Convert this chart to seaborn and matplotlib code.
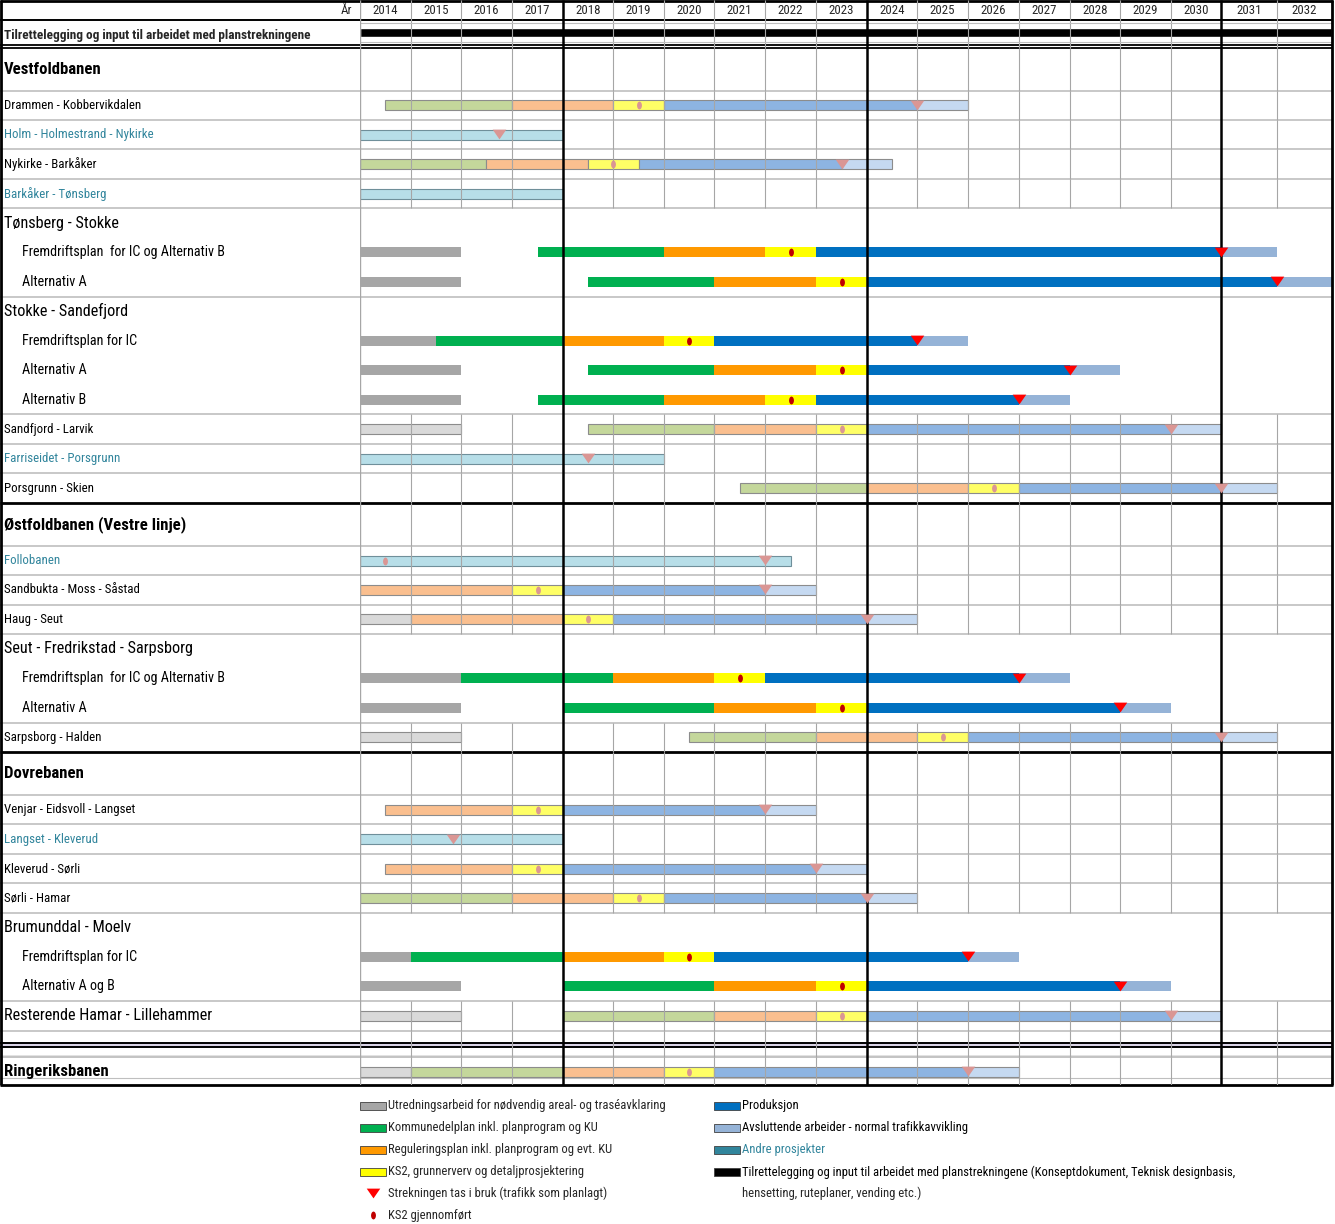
import numpy as np
import pandas as pd
import seaborn as sns
import matplotlib.pyplot as plt
from matplotlib.path import Path
from matplotlib.markers import MarkerStyle
from matplotlib.patches import Rectangle
from matplotlib.transforms import Affine2D

sns.set_style('white')
plt.rcParams['font.family'] = ['Liberation Sans Narrow', 'Roboto Condensed', 'Liberation Sans', 'DejaVu Sans']

W, H = 1335, 1224

# år og kolonnegrenser (siste to kolonner er litt bredere i originalen)
years = list(range(2014, 2033))
year_edges = years + [2033]
col_px = [360, 411, 461, 512, 563, 613, 664, 714, 765, 816, 867, 917, 968,
          1019, 1070, 1120, 1171, 1221, 1277, 1332]
thick_years = [2018, 2024, 2031]

tilr_label = 'Tilrettelegging og input til arbeidet med planstrekningene'
tilr_span = (2014, 2033)

row_labels = [
    'Vestfoldbanen', 'Drammen - Kobbervikdalen', 'Holm - Holmestrand - Nykirke',
    'Nykirke - Barkåker', 'Barkåker - Tønsberg', 'Tønsberg - Stokke',
    'Fremdriftsplan  for IC og Alternativ B', 'Alternativ A', 'Stokke - Sandefjord',
    'Fremdriftsplan for IC', 'Alternativ A', 'Alternativ B', 'Sandfjord - Larvik',
    'Farriseidet - Porsgrunn', 'Porsgrunn - Skien', 'Østfoldbanen (Vestre linje)',
    'Follobanen', 'Sandbukta - Moss - Såstad', 'Haug - Seut',
    'Seut - Fredrikstad - Sarpsborg', 'Fremdriftsplan  for IC og Alternativ B',
    'Alternativ A', 'Sarpsborg - Halden', 'Dovrebanen', 'Venjar - Eidsvoll - Langset',
    'Langset - Kleverud', 'Kleverud - Sørli', 'Sørli - Hamar', 'Brumunddal - Moelv',
    'Fremdriftsplan for IC', 'Alternativ A og B', 'Resterende Hamar - Lillehammer',
    '', 'Ringeriksbanen',
]
row_styles = [
    'line', 'plan', 'andre', 'plan', 'andre', 'group', 'ic', 'ic', 'group',
    'ic', 'ic', 'ic', 'plan', 'andre', 'plan', 'line',
    'andre', 'plan', 'plan', 'group', 'ic', 'ic', 'plan', 'line', 'plan',
    'andre', 'plan', 'plan', 'group', 'ic', 'ic', 'groupbar', 'sep', 'linebar',
]
# U=utredning, K=kommunedelplan, R=reguleringsplan, S=KS2/grunnerverv,
# P=produksjon, A=avsluttende, X=andre prosjekter, '-'=ingen aktivitet
row_phases = [
    '', 'KRSPA', 'X', 'KRSPA', 'X', '', 'U-KRSPA', 'U-KRSPA', '',
    'UKRSPA', 'U-KRSPA', 'U-KRSPA', 'U-KRSPA', 'X', 'KRSPA', '',
    'X', 'RSPA', 'URSPA', '', 'UKRSPA', 'U-KRSPA', 'U-KRSPA', '', 'RSPA',
    'X', 'RSPA', 'KRSPA', '', 'UKRSPA', 'U-KRSPA', 'U-KRSPA', '', 'UKRSPA',
]
row_edges = [
    [], [2014.5, 2017, 2019, 2020, 2025, 2026], [2014, 2018],
    [2014, 2016.5, 2018.5, 2019.5, 2023.5, 2024.5], [2014, 2018], [],
    [2014, 2016, 2017.5, 2020, 2022, 2023, 2031, 2032],
    [2014, 2016, 2018.5, 2021, 2023, 2024, 2032, 2033], [],
    [2014, 2015.5, 2018, 2020, 2021, 2025, 2026],
    [2014, 2016, 2018.5, 2021, 2023, 2024, 2028, 2029],
    [2014, 2016, 2017.5, 2020, 2022, 2023, 2027, 2028],
    [2014, 2016, 2018.5, 2021, 2023, 2024, 2030, 2031],
    [2014, 2020], [2021.5, 2024, 2026, 2027, 2031, 2032], [],
    [2014, 2022.5], [2014, 2017, 2018, 2022, 2023], [2014, 2015, 2018, 2019, 2024, 2025], [],
    [2014, 2016, 2019, 2021, 2022, 2027, 2028],
    [2014, 2016, 2018, 2021, 2023, 2024, 2029, 2030],
    [2014, 2016, 2020.5, 2023, 2025, 2026, 2031, 2032], [],
    [2014.5, 2017, 2018, 2022, 2023], [2014, 2018], [2014.5, 2017, 2018, 2023, 2024],
    [2014, 2017, 2019, 2020, 2024, 2025], [],
    [2014, 2015, 2018, 2020, 2021, 2026, 2027],
    [2014, 2016, 2018, 2021, 2023, 2024, 2029, 2030],
    [2014, 2016, 2018, 2021, 2023, 2024, 2030, 2031], [],
    [2014, 2015, 2018, 2020, 2021, 2026, 2027],
]
ks2_year = [
    None, 2019.5, None, 2019.0, None, None, 2022.5, 2023.5, None,
    2020.5, 2023.5, 2022.5, 2023.5, None, 2026.5, None,
    2014.5, 2017.5, 2018.5, None, 2021.5, 2023.5, 2025.5, None, 2017.5,
    None, 2017.5, 2019.5, None, 2020.5, 2023.5, 2023.5, None, 2020.5,
]
open_year = [
    None, 2025, 2016.75, 2023.5, None, None, 2031, 2032, None,
    2025, 2028, 2027, 2030, 2018.5, 2031, None,
    2022, 2022, 2024, None, 2027, 2029, 2031, None, 2022,
    2015.85, 2023, 2024, None, 2026, 2029, 2030, None, 2026,
]

strong_colors = {'U': '#A6A6A6', 'K': '#00B050', 'R': '#FF9900', 'S': '#FFFF00',
                 'P': '#0070C0', 'A': '#95B3D7'}
light_colors = {'U': '#D9D9D9', 'K': '#C4D79B', 'R': '#FABF8F', 'S': '#FFFF66',
                'P': '#8DB4E2', 'A': '#C5D9F1'}
andre_color = '#B7DEE8'
teal_text = '#31859C'

legend_left_labels = ['Utredningsarbeid for nødvendig areal- og traséavklaring',
                      'Kommunedelplan inkl. planprogram og KU',
                      'Reguleringsplan inkl. planprogram og evt. KU',
                      'KS2, grunnerverv og detaljprosjektering']
legend_left_colors = ['#A6A6A6', '#00B050', '#FF9900', '#FFFF00']
legend_right_labels = ['Produksjon', 'Avsluttende arbeider - normal trafikkavvikling',
                       'Andre prosjekter',
                       'Tilrettelegging og input til arbeidet med planstrekningene '
                       '(Konseptdokument, Teknisk designbasis,']
legend_right_colors = ['#0070C0', '#95B3D7', '#31859C', '#000000']

# ---- layout
ROW_H = {'line': 43.0, 'sep': 26.0, 'linebar': 30.0}
heights = np.array([ROW_H.get(s, 29.45) for s in row_styles])
tops = 47.5 + np.concatenate([[0], np.cumsum(heights)[:-1]])
centers = tops + heights / 2
TAB_BOTTOM = 1085
FS_YEAR, FS_TILR, FS_LEG = 9.3, 9.5, 9.1


def fwd(x):
    return np.interp(x, year_edges, col_px)


def inv(p):
    return np.interp(p, col_px, year_edges)


fig = plt.figure(figsize=(W / 100, H / 100), dpi=100)
ax_bg = fig.add_axes([0, 0, 1, 1])
ax_bg.set_xlim(0, W)
ax_bg.set_ylim(H, 0)
ax_bg.axis('off')

ax = fig.add_axes([360 / W, 1 - TAB_BOTTOM / H, (1332 - 360) / W, TAB_BOTTOM / H])
ax.set_xscale('function', functions=(fwd, inv))
ax.set_xlim(2014, 2033)
ax.set_ylim(TAB_BOTTOM, 0)
ax.axis('off')

grid_c = '#A6A6A6'
hline_c = '#BFBFBF'
inner_years = [y for y in year_edges[1:-1] if y not in thick_years]

# header row + tilrettelegging row
ax_bg.text(352, 10, 'År', ha='right', va='center', fontsize=FS_YEAR)
for y in years:
    ax.text(y + 0.5, 10, str(y), ha='center', va='center', fontsize=FS_YEAR)
ax.vlines(inner_years, 0, 47.5, color=grid_c, lw=0.8, zorder=3)
ax_bg.text(4, 36, tilr_label, ha='left', va='center', fontsize=FS_TILR, fontweight='bold')
ax.barh(32, tilr_span[1] - tilr_span[0], left=tilr_span[0], height=9, color='black', zorder=2)
ax.hlines([23, 41.5], 2014, 2033, color=hline_c, lw=0.8, zorder=3)
ax_bg.hlines(19.5, 0, 1332, color='black', lw=1.4)
ax_bg.hlines([44.5, 47.5], 0, 1332, color='black', lw=1.3)

# rows
label_fmt = {
    'line': (4, 12.1, 'bold', 'black'), 'linebar': (4, 12.1, 'bold', 'black'),
    'group': (4, 11.7, 'normal', 'black'), 'groupbar': (4, 11.7, 'normal', 'black'),
    'ic': (22, 10.2, 'normal', 'black'), 'plan': (4, 9.3, 'normal', 'black'),
    'andre': (4, 9.3, 'normal', teal_text),
}
ms = []
for i, (lab, sty) in enumerate(zip(row_labels, row_styles)):
    top, bot, yc = tops[i], tops[i] + heights[i], centers[i]
    if sty in label_fmt:
        x0, fs, fw, fc = label_fmt[sty]
        ax_bg.text(x0, yc, lab, ha='left', va='center', fontsize=fs, fontweight=fw, color=fc)
    # grid
    if sty not in ('group', 'ic'):
        ax.vlines(inner_years, top, bot, color=grid_c, lw=0.8, zorder=3)
    if sty == 'line' and i > 0:
        ax_bg.hlines(top, 0, 1332, color='black', lw=2.0, zorder=4)
    elif sty != 'ic' and i > 0:
        ax_bg.hlines(top, 0, 1332, color=hline_c, lw=1.2)
    if sty == 'sep':
        ax_bg.add_patch(Rectangle((0, top + 12.5), 1332, 4, color='#D9D3E6', lw=0))
        ax_bg.hlines([top + 12.5, top + 16.5], 0, 1332, color='black', lw=1.4, zorder=4)
        ax_bg.hlines(top + 25, 0, 1332, color='#D9D9D9', lw=1.8)
    if sty == 'linebar':
        ax_bg.hlines(yc + 6, 0, 1332, color=hline_c, lw=0.8)
    # bars
    phases, edges = row_phases[i], row_edges[i]
    for k, ph in enumerate(phases):
        if ph == '-':
            continue
        if ph == 'X':
            col, ec, lw = andre_color, '#6F8F9A', 0.8
        elif sty == 'ic':
            col, ec, lw = strong_colors[ph], 'none', 0
        else:
            col, ec, lw = light_colors[ph], '#8C8C8C', 0.8
        ax.barh(yc, edges[k + 1] - edges[k], left=edges[k], height=10,
                color=col, edgecolor=ec, linewidth=lw, zorder=2)
    strong = sty == 'ic'
    if ks2_year[i] is not None:
        ms.append((ks2_year[i], yc, 'dot_strong' if strong else 'dot_light'))
    if open_year[i] is not None:
        ms.append((open_year[i], yc - 0.5, 'tri_strong' if strong else 'tri_light'))

df_ms = pd.DataFrame(ms, columns=['year', 'y', 'kind'])
tri = MarkerStyle([(-1, 0.72), (1, 0.72), (0, -0.72)])
ell = MarkerStyle(Path.unit_circle().transformed(Affine2D().scale(0.62, 1.0)))
ms_style = {'tri_strong': (tri, 95, '#FF0000'), 'tri_light': (tri, 95, '#DA9694'),
            'dot_strong': (ell, 32, '#C00000'), 'dot_light': (ell, 32, '#DA9694')}
for kind, (mk, size, col) in ms_style.items():
    sub = df_ms[df_ms['kind'] == kind]
    sns.scatterplot(data=sub, x='year', y='y', marker=mk, s=size, color=col,
                    linewidth=0, zorder=6, ax=ax, legend=False)
ax.set_xlim(2014, 2033)
ax.set_ylim(TAB_BOTTOM, 0)
ax.axis('off')

# thick verticals and borders
ax.vlines(thick_years, 0, TAB_BOTTOM, color='black', lw=1.8, zorder=5)
ax.vlines([2014], 0, TAB_BOTTOM, color=grid_c, lw=1.0, zorder=5)
ax.vlines([2033], 0, TAB_BOTTOM, color='black', lw=2.0, zorder=5, clip_on=False)
ax_bg.vlines(1, 0, TAB_BOTTOM, color='black', lw=2.0, zorder=5)
ax_bg.hlines([1, TAB_BOTTOM], 0, 1333, color='black', lw=2.0, zorder=5)

# legend
leg_y = [1106, 1128, 1150, 1172, 1193, 1215]
for lab, col, y in zip(legend_left_labels, legend_left_colors, leg_y):
    ax_bg.add_patch(Rectangle((360, y - 4), 26, 8, facecolor=col, edgecolor='#404040', lw=0.6))
    ax_bg.text(388, y, lab, ha='left', va='center', fontsize=FS_LEG)
ax_bg.scatter([373], [leg_y[4]], marker=tri, s=95, color='#FF0000', linewidths=0)
ax_bg.text(388, leg_y[4], 'Strekningen tas i bruk (trafikk som planlagt)', ha='left', va='center', fontsize=FS_LEG)
ax_bg.scatter([373], [leg_y[5]], marker=ell, s=32, color='#C00000', linewidths=0)
ax_bg.text(388, leg_y[5], 'KS2 gjennomført', ha='left', va='center', fontsize=FS_LEG)
for lab, col, y in zip(legend_right_labels, legend_right_colors, leg_y):
    ax_bg.add_patch(Rectangle((714, y - 4), 26, 8, facecolor=col, edgecolor='#404040', lw=0.6))
    ax_bg.text(742, y, lab, ha='left', va='center', fontsize=FS_LEG,
               color=teal_text if lab == 'Andre prosjekter' else 'black')
ax_bg.text(742, leg_y[4], 'hensetting, ruteplaner, vending etc.)', ha='left', va='center', fontsize=FS_LEG)

plt.savefig('out.png', dpi=100)
